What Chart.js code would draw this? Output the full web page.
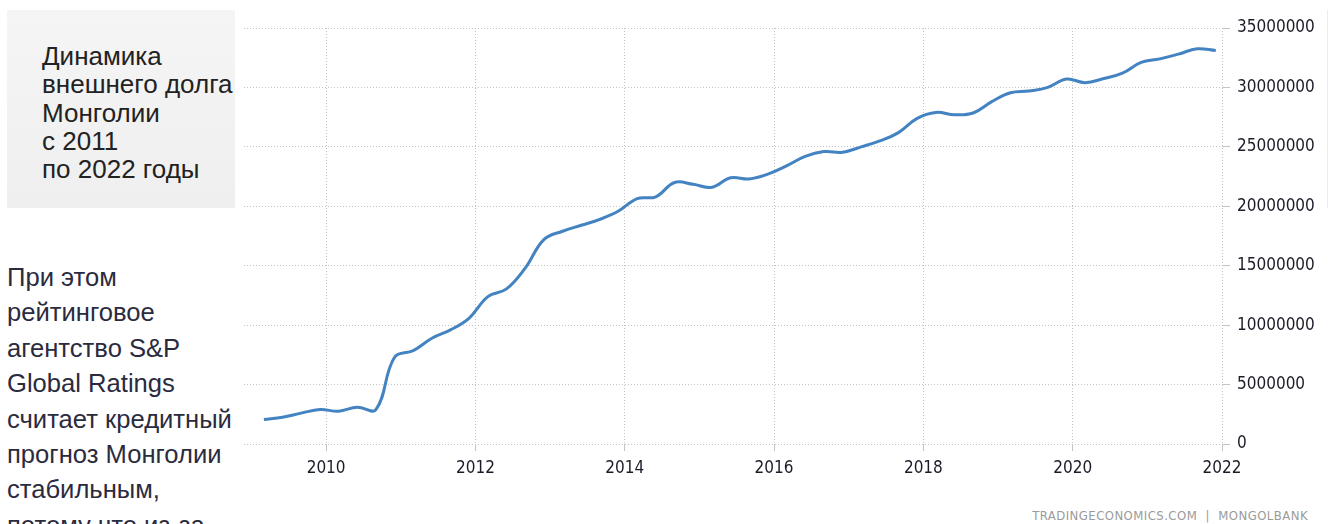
<!DOCTYPE html>
<html lang="ru">
<head>
<meta charset="utf-8">
<title>Внешний долг Монголии</title>
<script src="https://cdn.jsdelivr.net/npm/chart.js@4.4.1/dist/chart.umd.min.js"></script>
<style>
  html, body { margin: 0; padding: 0; background: #fff; }
  body { width: 1333px; height: 524px; position: relative; overflow: hidden; font-family: "Liberation Sans", Arial, sans-serif; }
  .title-box {
    position: absolute; left: 7px; top: 10px; width: 228px; height: 198px;
    background: linear-gradient(#f5f5f5, #efefef);
    box-sizing: border-box; padding: 32px 0 0 35px;
    font-size: 26px; line-height: 28.3px; color: #222; white-space: nowrap;
  }
  .side-text {
    position: absolute; left: 7px; top: 260px; width: 240px;
    font-size: 25.6px; line-height: 35.4px; color: #2b2b40; white-space: nowrap;
  }
  .chart-wrap { position: absolute; left: 236px; top: 0; width: 1097px; height: 495px; }
  .source {
    position: absolute; right: 25px; top: 508px;
    font-family: "DejaVu Sans Condensed", "DejaVu Sans", sans-serif;
    font-size: 13px; line-height: 15px; letter-spacing: 0.45px; color: #9a9a9a;
  }
  .edge { position: absolute; left: 1327px; top: 10px; width: 1px; height: 198px; background: #ececec; }
</style>
</head>
<body>
<div class="title-box">Динамика<br>внешнего долга<br>Монголии<br>с 2011<br>по 2022 годы</div>
<div class="side-text">При этом<br>рейтинговое<br>агентство S&amp;P<br>Global Ratings<br>считает кредитный<br>прогноз Монголии<br>стабильным,<br>потому что из-за</div>
<div class="edge"></div>
<div class="chart-wrap"><canvas id="debtChart" width="1097" height="495"></canvas></div>
<div class="source">TRADINGECONOMICS.COM &nbsp;|&nbsp; MONGOLBANK</div>

<script>
// ================== данные (квартальные, тыс. USD) ==================
const quarters = [
  '2009Q1', '2009Q2', '2009Q3', '2009Q4',
  '2010Q1', '2010Q2', '2010Q3', '2010Q4',
  '2011Q1', '2011Q2', '2011Q3', '2011Q4',
  '2012Q1', '2012Q2', '2012Q3', '2012Q4',
  '2013Q1', '2013Q2', '2013Q3', '2013Q4',
  '2014Q1', '2014Q2', '2014Q3', '2014Q4',
  '2015Q1', '2015Q2', '2015Q3', '2015Q4',
  '2016Q1', '2016Q2', '2016Q3', '2016Q4',
  '2017Q1', '2017Q2', '2017Q3', '2017Q4',
  '2018Q1', '2018Q2', '2018Q3', '2018Q4',
  '2019Q1', '2019Q2', '2019Q3', '2019Q4',
  '2020Q1', '2020Q2', '2020Q3', '2020Q4',
  '2021Q1', '2021Q2', '2021Q3', '2021Q4'
];
const externalDebt = [
  2060000, 2250000, 2600000, 2900000,
  2760000, 3100000, 2900000, 7300000,
  7850000, 8900000, 9600000, 10600000,
  12400000, 13050000, 14800000, 17200000,
  17900000, 18400000, 18900000, 19600000,
  20650000, 20800000, 22000000, 21850000,
  21600000, 22400000, 22300000, 22700000,
  23400000, 24200000, 24600000, 24550000,
  25000000, 25500000, 26200000, 27400000,
  27900000, 27700000, 27850000, 28800000,
  29550000, 29700000, 30000000, 30700000,
  30400000, 30750000, 31200000, 32100000,
  32400000, 32800000, 33250000, 33100000
];
const xTicks = [2010, 2012, 2014, 2016, 2018, 2020, 2022];
const yTicks = [0, 5000000, 10000000, 15000000, 20000000, 25000000, 30000000, 35000000];

// квартал -> десятичный год (точка ставится на последний месяц квартала)
function quarterToYear(q) {
  const year = parseInt(q.slice(0, 4), 10);
  const n = parseInt(q.slice(5), 10);
  return year + (n * 3 - 1) / 12;
}

const tickFont = { family: '"DejaVu Sans Condensed", "DejaVu Sans", sans-serif', size: 17 };
const gridStyle = { color: '#c4c4c4', lineWidth: 1 };
const dotted = { display: false, dash: [1, 2] };

// ================== график ==================
function renderDebtChart() {
  const points = quarters.map((q, i) => ({ x: quarterToYear(q), y: externalDebt[i] }));
  const ctx = document.getElementById('debtChart').getContext('2d');
  new Chart(ctx, {
    type: 'line',
    data: {
      datasets: [{
        data: points,
        borderColor: '#4383c1',
        borderWidth: 3,
        pointRadius: 0,
        tension: 0.4,
        fill: false
      }]
    },
    options: {
      responsive: false,
      animation: false,
      layout: { padding: { left: 8, top: 28, right: 0, bottom: 0 } },
      plugins: {
        legend: { display: false },
        tooltip: { enabled: false }
      },
      scales: {
        x: {
          type: 'linear',
          min: 2008.9,
          max: 2022,
          afterBuildTicks: (scale) => { scale.ticks = xTicks.map(v => ({ value: v })); },
          afterFit: (scale) => { scale.height = 51; },
          border: dotted,
          grid: { ...gridStyle, tickLength: 7 },
          ticks: { color: '#1c1c28', font: tickFont, padding: 7, maxRotation: 0, callback: v => String(v) }
        },
        y: {
          position: 'right',
          min: 0,
          max: 35000000,
          afterBuildTicks: (scale) => { scale.ticks = yTicks.map(v => ({ value: v })); },
          afterFit: (scale) => { scale.width = 111; },
          border: dotted,
          grid: { ...gridStyle, tickLength: 8 },
          ticks: { color: '#1c1c28', font: tickFont, padding: 7, callback: v => String(v) }
        }
      }
    }
  });
}

document.addEventListener('DOMContentLoaded', renderDebtChart);
</script>
</body>
</html>
